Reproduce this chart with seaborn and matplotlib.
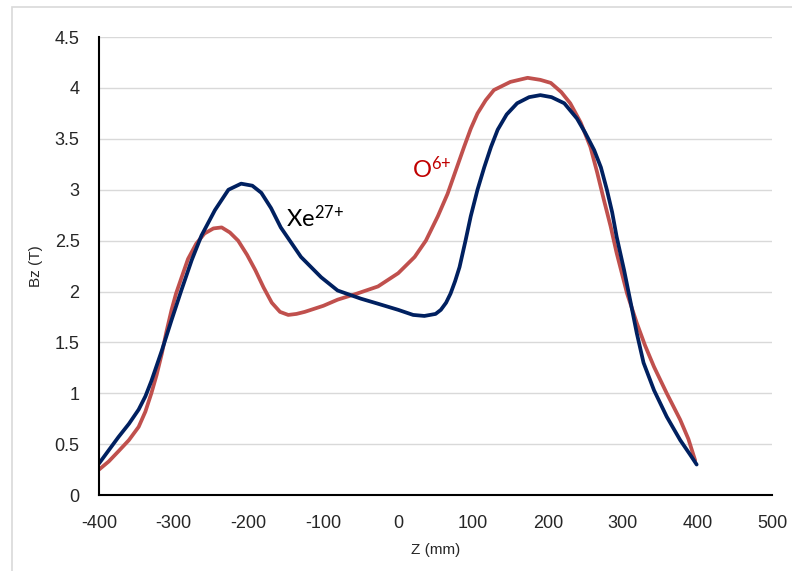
import matplotlib
matplotlib.use('Agg')
import matplotlib.pyplot as plt
from matplotlib.patches import Rectangle
import pandas as pd
import seaborn as sns

# Xe27+ field profile
xe_z = [-400, -387, -374, -360, -347, -338, -330, -316, -303, -290, -276, -263, -245,
        -227, -210, -195, -183, -170, -157, -130, -103, -81, -50, -27, 0, 20, 35, 50,
        57, 64, 70, 76, 82, 90, 97, 106, 115, 124, 133, 145, 159, 175, 190, 205, 222,
        239, 250, 262, 271, 279, 286, 292, 302, 310, 319, 328, 342, 359, 377, 390, 399]
xe_bz = [0.31, 0.44, 0.57, 0.70, 0.84, 0.97, 1.12, 1.42, 1.72, 2.01, 2.31, 2.55, 2.80,
         3.00, 3.06, 3.04, 2.97, 2.82, 2.63, 2.34, 2.14, 2.01, 1.93, 1.88, 1.82, 1.77,
         1.76, 1.78, 1.82, 1.89, 1.98, 2.10, 2.24, 2.50, 2.74, 3.00, 3.22, 3.42, 3.59,
         3.74, 3.85, 3.91, 3.93, 3.91, 3.85, 3.70, 3.56, 3.39, 3.22, 3.00, 2.78, 2.54,
         2.21, 1.92, 1.59, 1.30, 1.03, 0.77, 0.54, 0.40, 0.30]

# O6+ field profile
o_z = [-400, -387, -374, -360, -347, -338, -330, -323, -316, -310, -303, -297, -290,
       -281, -270, -259, -247, -236, -225, -214, -202, -191, -180, -169, -158, -147,
       -136, -125, -100, -81, -55, -27, 0, 22, 37, 53, 66, 77, 88, 97, 106, 117, 128,
       150, 173, 190, 204, 218, 230, 244, 257, 266, 275, 284, 292, 306, 319, 330, 342,
       359, 377, 388, 397]
o_bz = [0.25, 0.33, 0.43, 0.54, 0.67, 0.82, 1.00, 1.18, 1.39, 1.60, 1.82, 1.98, 2.13,
        2.32, 2.47, 2.57, 2.62, 2.63, 2.58, 2.50, 2.36, 2.21, 2.04, 1.89, 1.80, 1.77,
        1.78, 1.80, 1.86, 1.92, 1.98, 2.05, 2.18, 2.34, 2.50, 2.74, 2.96, 3.19, 3.42,
        3.60, 3.75, 3.88, 3.98, 4.06, 4.10, 4.08, 4.05, 3.96, 3.85, 3.66, 3.42, 3.17,
        2.90, 2.64, 2.38, 1.98, 1.69, 1.47, 1.26, 1.00, 0.74, 0.55, 0.34]

x_ticks = [-400, -300, -200, -100, 0, 100, 200, 300, 400, 500]
y_ticks = [0, 0.5, 1, 1.5, 2, 2.5, 3, 3.5, 4, 4.5]

df = pd.concat([
    pd.DataFrame({'z': o_z, 'bz': o_bz, 'ion': 'O6+'}),
    pd.DataFrame({'z': xe_z, 'bz': xe_bz, 'ion': 'Xe27+'}),
])

sns.set_style('white')
plt.rcParams['font.family'] = ['Liberation Sans', 'DejaVu Sans']
plt.rcParams['mathtext.fontset'] = 'custom'
plt.rcParams['mathtext.rm'] = 'Lato'
plt.rcParams['mathtext.it'] = 'Lato:italic'
plt.rcParams['mathtext.bf'] = 'Lato:bold'

fig = plt.figure(figsize=(7.92, 5.71), dpi=100)
ax = fig.add_axes([0.125, 0.133, 0.85, 0.802])

# light frame around the chart area
fig.patches.append(Rectangle((12 / 792, -0.1), 1.2, 1.1 - 7 / 571,
                             transform=fig.transFigure, fill=False,
                             edgecolor='#D9D9D9', linewidth=1.2))

sns.lineplot(data=df, x='z', y='bz', hue='ion', sort=False, estimator=None,
             palette={'O6+': '#C0504D', 'Xe27+': '#002060'},
             linewidth=2.7, legend=False, ax=ax)

ax.set_xlim(-400, 500)
ax.set_ylim(0, 4.5)
ax.set_xticks(x_ticks)
ax.set_yticks(y_ticks)
ax.set_xticklabels([str(v) for v in x_ticks])
ax.set_yticklabels([f'{v:g}' for v in y_ticks])
ax.tick_params(axis='x', length=0, labelsize=13, pad=14)
ax.tick_params(axis='y', length=0, labelsize=13, pad=14)
ax.yaxis.grid(True, color='#D9D9D9', linewidth=1)
ax.set_axisbelow(True)
for side in ['top', 'right']:
    ax.spines[side].set_visible(False)
for side in ['left', 'bottom']:
    ax.spines[side].set_color('black')
    ax.spines[side].set_linewidth(1.5)

ax.set_xlabel('Z (mm)', fontsize=11, labelpad=8)
ax.set_ylabel('Bz (T)', fontsize=11, labelpad=8)

ax.text(-150, 2.73, r'Xe$^{\mathrm{27{+}}}$', fontsize=17, color='black', va='center',
        family=['Lato', 'DejaVu Sans'])
ax.text(19, 3.21, r'O$^{\mathrm{6{+}}}$', fontsize=17, color='#C00000', va='center',
        family=['Lato', 'DejaVu Sans'])

fig.savefig('out.png', dpi=100)
plt.close(fig)
